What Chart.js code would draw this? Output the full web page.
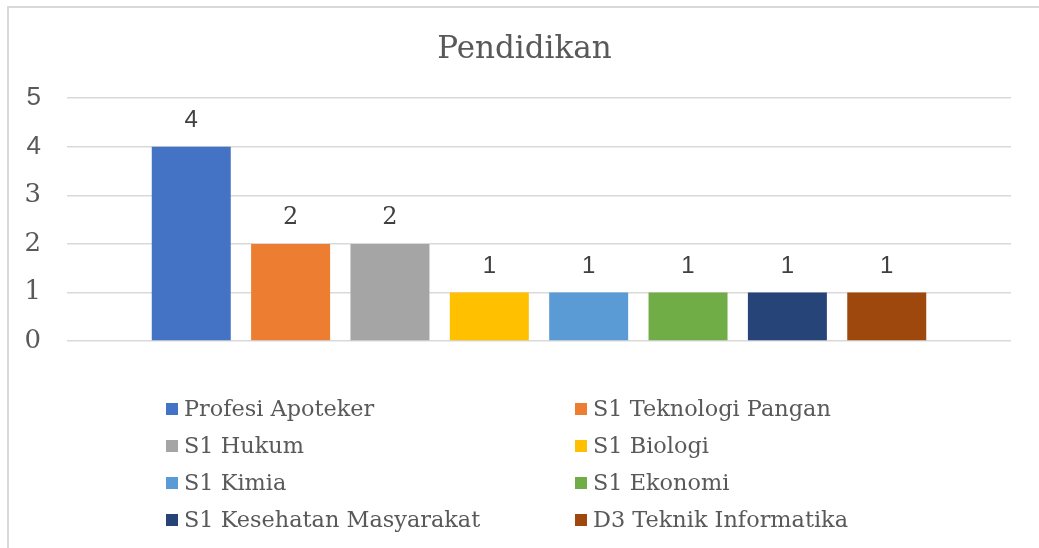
<!DOCTYPE html>
<html>
<head>
<meta charset="utf-8">
<script src="https://cdn.jsdelivr.net/npm/chart.js@4.4.1/dist/chart.umd.min.js"></script>
<style>
  html, body { margin: 0; padding: 0; background: #fff; overflow: hidden; }
  #wrap { position: absolute; left: 0; top: 0; width: 1039px; height: 548px; }
</style>
</head>
<body>
<div id="wrap"><canvas id="chart_pendidikan"></canvas></div>
<script>
var chartTitle = 'Pendidikan';
var programs = ['Profesi Apoteker', 'S1 Teknologi Pangan', 'S1 Hukum', 'S1 Biologi',
                'S1 Kimia', 'S1 Ekonomi', 'S1 Kesehatan Masyarakat', 'D3 Teknik Informatika'];
var counts = [4, 2, 2, 1, 1, 1, 1, 1];
var barColors = ['#4472C4', '#ED7D31', '#A5A5A5', '#FFC000', '#5B9BD5', '#70AD47', '#264478', '#9E480E'];
var yTicks = [0, 1, 2, 3, 4, 5];

var serif = '"DejaVu Serif", serif';
var sans = '"Liberation Sans", Arial, sans-serif';

// the original falls back to a sans face for some digits
function digitFamily(v) {
    return (v === 4 || v === 5) ? sans : serif;
}

var datasets = programs.map(function(name, i) {
    return {
        label: name,
        data: [counts[i]],
        backgroundColor: barColors[i],
        categoryPercentage: 0.842,
        barPercentage: 0.795
    };
});

// white background + cut-off frame (only top and left edges show)
var frame = {
    id: 'frame',
    beforeDraw: function(chart) {
        var ctx = chart.ctx;
        ctx.save();
        ctx.fillStyle = '#fff';
        ctx.fillRect(0, 0, chart.width, chart.height);
        ctx.strokeStyle = '#d9d9d9';
        ctx.lineWidth = 2;
        ctx.beginPath();
        ctx.moveTo(chart.width, 7);
        ctx.lineTo(8, 7);
        ctx.lineTo(8, chart.height);
        ctx.stroke();
        ctx.restore();
    }
};

var valueLabels = {
    id: 'valueLabels',
    afterDatasetsDraw: function(chart) {
        var ctx = chart.ctx;
        ctx.save();
        ctx.fillStyle = '#404040';
        ctx.textAlign = 'center';
        ctx.textBaseline = 'middle';
        chart.data.datasets.forEach(function(ds, i) {
            var bar = chart.getDatasetMeta(i).data[0];
            var v = ds.data[0];
            ctx.font = '24px ' + (v === 2 ? serif : sans);
            ctx.fillText(String(v), bar.x, bar.y - 26);
        });
        ctx.restore();
    }
};

// legend laid out in two columns like the original
var twoColLegend = {
    id: 'twoColLegend',
    afterDraw: function(chart) {
        var ctx = chart.ctx;
        var colX = [166, 575];
        var rowY = [409, 446, 483, 520];
        ctx.save();
        ctx.font = '22.4px ' + serif;
        ctx.textBaseline = 'middle';
        ctx.textAlign = 'left';
        chart.data.datasets.forEach(function(ds, i) {
            var x = colX[i % 2];
            var y = rowY[Math.floor(i / 2)];
            ctx.fillStyle = ds.backgroundColor;
            ctx.fillRect(x, y - 6, 12, 12);
            ctx.fillStyle = '#595959';
            ctx.fillText(ds.label, x + 18, y + 1);
        });
        ctx.restore();
    }
};

var chart_pendidikan = new Chart(document.getElementById('chart_pendidikan'), {
    type: 'bar',
    data: {
        labels: [''],
        datasets: datasets
    },
    options: {
        animation: false,
        responsive: true,
        maintainAspectRatio: false,
        layout: {
            padding: { left: 10, right: 0, top: 0, bottom: 207 }
        },
        plugins: {
            legend: { display: false },
            tooltip: { enabled: false },
            title: {
                display: true,
                text: chartTitle,
                color: '#595959',
                font: { family: serif, size: 31, weight: 'normal', lineHeight: 1.2 },
                padding: { top: 31, bottom: 30 }
            }
        },
        scales: {
            x: { display: false },
            y: {
                min: 0,
                max: 5,
                afterBuildTicks: function(scale) {
                    scale.ticks = yTicks.map(function(v) { return { value: v }; });
                },
                afterFit: function(scale) { scale.width = 57; },
                border: { display: false },
                grid: { color: '#d9d9d9', lineWidth: 1.5, drawTicks: false },
                ticks: {
                    padding: 26,
                    color: '#595959',
                    font: function(c) {
                        return { family: digitFamily(c.tick ? c.tick.value : 0), size: 26 };
                    }
                }
            },
            // empty right-hand axis only reserves the right margin
            yRight: {
                position: 'right',
                min: 0,
                max: 5,
                afterFit: function(scale) { scale.width = 28; },
                border: { display: false },
                grid: { display: false },
                ticks: { display: false }
            }
        }
    },
    plugins: [frame, valueLabels, twoColLegend]
});
</script>
</body>
</html>
